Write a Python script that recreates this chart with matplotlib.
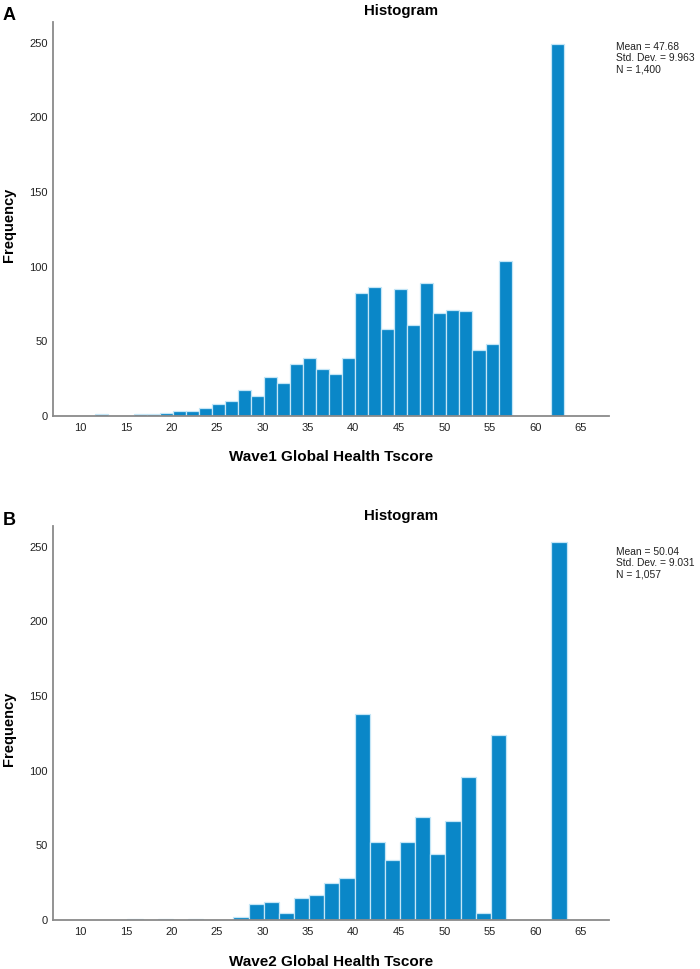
import numpy as np
import matplotlib
matplotlib.use("Agg")
import matplotlib.pyplot as plt

plt.rcParams['font.family'] = ['Liberation Sans', 'DejaVu Sans']

# ---- data ----
# Panel A (Wave 1): counts per bin, bins start at a1_start with width a1_width
a1_start = 11.57
a1_width = 1.432
a1_counts = [1, 0, 0, 1, 1, 2, 3, 3, 5, 8, 10, 17, 13, 26, 22, 35, 39, 31, 28, 39,
             82, 86, 58, 85, 61, 89, 69, 71, 70, 44, 48, 104, 0, 0, 0, 249]
a1_stats = ["Mean = 47.68", "Std. Dev. = 9.963", "N = 1,400"]
a1_xlabel = "Wave1 Global Health Tscore"

# Panel B (Wave 2)
b2_start = 15.18
b2_width = 1.664
b2_counts = [1, 0, 1, 0, 1, 0, 0, 2, 11, 12, 5, 15, 17, 25, 28,
             138, 52, 40, 52, 69, 44, 66, 96, 5, 124, 0, 0, 0, 253]
b2_stats = ["Mean = 50.04", "Std. Dev. = 9.031", "N = 1,057"]
b2_xlabel = "Wave2 Global Health Tscore"

xticks = [10, 15, 20, 25, 30, 35, 40, 45, 50, 55, 60, 65]
yticks = [0, 50, 100, 150, 200, 250]

W, H = 700, 969
fig = plt.figure(figsize=(W / 100, H / 100), dpi=100)

BAR = '#0A87C8'
EDGE = '#C4E6F7'
AX = '#8A8A8A'


def fy(py):
    return 1 - py / H


def panel(top_px, bottom_px, start, width, counts, stats, xlabel, letter, off):
    left, right = 53, 609
    ax = fig.add_axes([left / W, fy(bottom_px), (right - left) / W, (bottom_px - top_px) / H])
    counts = np.asarray(counts)
    lefts = start + width * np.arange(len(counts))
    mask = counts > 0
    ax.bar(lefts[mask], counts[mask], width=width, align='edge',
           color=BAR, edgecolor=EDGE, linewidth=0.9)
    ax.set_xlim(7.0, 68.1)
    ax.set_ylim(0, 264)
    ax.set_xticks(xticks)
    ax.set_yticks(yticks)
    for s in ['top', 'right']:
        ax.spines[s].set_visible(False)
    for s in ['left', 'bottom']:
        ax.spines[s].set_color(AX)
        ax.spines[s].set_linewidth(1.3)
    ax.tick_params(axis='both', length=0, labelsize=8, labelcolor='#222222')
    ax.tick_params(axis='x', pad=5)
    ax.tick_params(axis='y', pad=4)

    # panel letter
    fig.text(3 / W, fy(20 + off), letter, fontsize=13, fontweight='bold',
             ha='left', va='baseline', color='black')
    # title
    fig.text(401 / W, fy(15 + off), "Histogram", fontsize=10.8, fontweight='bold',
             ha='center', va='baseline', color='black')
    # stats
    for i, s in enumerate(stats):
        fig.text(616 / W, fy(42 + off + i * 11.4), s, fontsize=7.4,
                 ha='left', va='top', color='#222222')
    # y label
    fig.text(9 / W, fy((top_px + bottom_px) / 2 + 6), "Frequency", fontsize=10.5,
             fontweight='bold', rotation=90, ha='center', va='center', color='black')
    # x label
    fig.text(331 / W, fy(461 + off), xlabel, fontsize=11, fontweight='bold',
             ha='center', va='baseline', color='black')
    return ax


panel(22, 415.7, a1_start, a1_width, a1_counts, a1_stats, a1_xlabel, "A", 0)
panel(525.7, 920, b2_start, b2_width, b2_counts, b2_stats, b2_xlabel, "B", 505)

fig.savefig("out.png", dpi=100, facecolor='white')
